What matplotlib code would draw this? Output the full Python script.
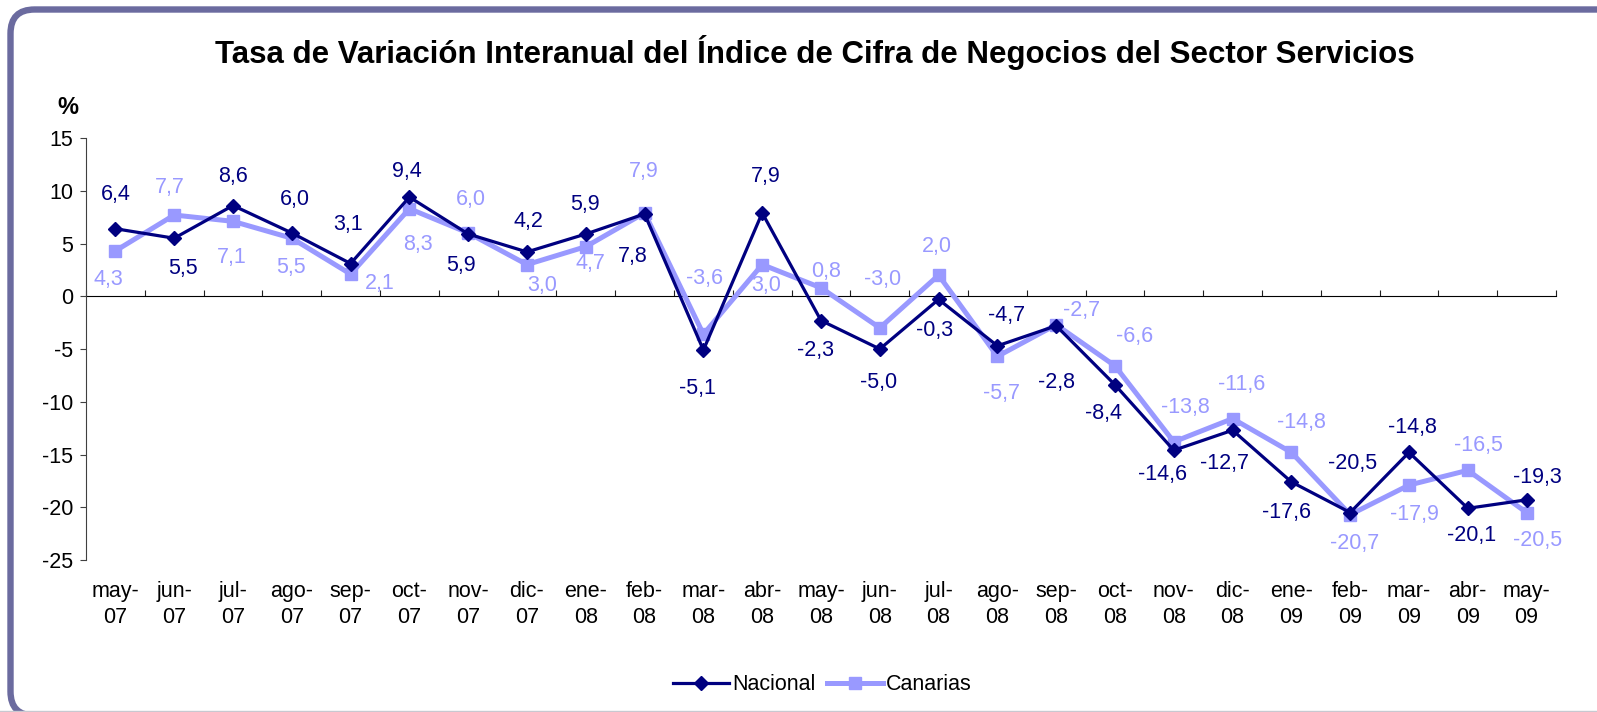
import numpy as np
import matplotlib as mpl
import matplotlib.pyplot as plt
from matplotlib.patches import FancyBboxPatch

mpl.rcParams["font.family"] = ["Liberation Sans", "DejaVu Sans"]
mpl.rcParams["axes.unicode_minus"] = False

meses = ["may-\n07", "jun-\n07", "jul-\n07", "ago-\n07", "sep-\n07", "oct-\n07",
         "nov-\n07", "dic-\n07", "ene-\n08", "feb-\n08", "mar-\n08", "abr-\n08",
         "may-\n08", "jun-\n08", "jul-\n08", "ago-\n08", "sep-\n08", "oct-\n08",
         "nov-\n08", "dic-\n08", "ene-\n09", "feb-\n09", "mar-\n09", "abr-\n09",
         "may-\n09"]
nacional = [6.4, 5.5, 8.6, 6.0, 3.1, 9.4, 5.9, 4.2, 5.9, 7.8, -5.1, 7.9, -2.3,
            -5.0, -0.3, -4.7, -2.8, -8.4, -14.6, -12.7, -17.6, -20.5, -14.8,
            -20.1, -19.3]
canarias = [4.3, 7.7, 7.1, 5.5, 2.1, 8.3, 6.0, 3.0, 4.7, 7.9, -3.6, 3.0, 0.8,
            -3.0, 2.0, -5.7, -2.7, -6.6, -13.8, -11.6, -14.8, -20.7, -17.9,
            -16.5, -20.5]

# label offsets in pixels (dx, dy), dy positive = downwards
off_nac = [(0, -34), (9, 30), (0, -29), (3, -33), (-3, -39), (-3, -26), (-7, 31),
           (1, -30), (-1, -30), (-12, 43), (-6, 38), (4, -36), (-5, 30), (-1, 33),
           (-4, 31), (9, -30), (0, 57), (-11, 29), (-11, 24), (-8, 33), (-5, 31),
           (2, -49), (3, -25), (4, 27), (11, -22)]
off_can = [(-7, 29), (-4, -28), (-1, 36), (-1, 29), (29, 9), (9, 36), (3, -33),
           (15, 21), (5, 17), (-1, -41), (1, -56), (4, 21), (5, -16), (3, -48),
           (-2, -29), (4, 37), (25, -14), (20, -29), (12, -34), (9, -34), (10, -30),
           (4, 29), (5, 29), (11, -25), (11, 28)]

c_nac = "#000080"
c_can = "#9999FF"
fs = 15.5

fig = plt.figure(figsize=(15.97, 7.12), dpi=100)
ax = fig.add_axes([86 / 1597, 1 - 560 / 712, 1470 / 1597, 422 / 712])

x = np.arange(len(meses))
ax.plot(x, canarias, color=c_can, lw=3.6, marker="s", ms=8.5, label="Canarias", zorder=3)
ax.plot(x, nacional, color=c_nac, lw=2.3, marker="D", ms=7.5, label="Nacional", zorder=4)

def fmt(v):
    return f"{v:.1f}".replace(".", ",")

for xi, v, (dx, dy) in zip(x, nacional, off_nac):
    ax.annotate(fmt(v), (xi, v), xytext=(dx, -dy), textcoords="offset pixels",
                ha="center", va="center", fontsize=fs, color=c_nac)
for xi, v, (dx, dy) in zip(x, canarias, off_can):
    ax.annotate(fmt(v), (xi, v), xytext=(dx, -dy), textcoords="offset pixels",
                ha="center", va="center", fontsize=fs, color=c_can)

ax.set_xlim(-0.5, len(meses) - 0.5)
ax.set_ylim(-25, 15)
ax.set_yticks(np.arange(-25, 16, 5))
ax.tick_params(axis="y", length=4.3, width=0.8, pad=5, labelsize=fs, color="#404040")
ax.set_xticks(x)
ax.set_xticklabels(meses, fontsize=fs, linespacing=1.3)
ax.tick_params(axis="x", length=0, pad=15)
for s in ["top", "right", "bottom"]:
    ax.spines[s].set_visible(False)
ax.spines["left"].set_color("#404040")
ax.spines["left"].set_linewidth(0.8)

# zero line with category boundary ticks
sec = ax.secondary_xaxis(25 / 40)
sec.set_xticks(np.arange(-0.5, len(meses), 1.0))
sec.set_xticklabels([])
sec.tick_params(length=4.3, width=0.8, direction="out", color="#202020")
sec.spines["bottom"].set_color("#202020")
sec.spines["bottom"].set_linewidth(0.8)

fig.text(815 / 1597, 1 - 53 / 712,
         "Tasa de Variación Interanual del Índice de Cifra de Negocios del Sector Servicios",
         ha="center", va="center", fontsize=22.5, fontweight="bold")
fig.text(68 / 1597, 1 - 108 / 712, "%", ha="center", va="center", fontsize=17, fontweight="bold")

h, l = ax.get_legend_handles_labels()
fig.legend(h[::-1], l[::-1], loc="center", bbox_to_anchor=(0.5 + 24 / 1597, 1 - 685 / 712),
           ncol=2, frameon=False, fontsize=fs, handlelength=2.6, handletextpad=0.15,
           columnspacing=0.5)

frame = FancyBboxPatch((0.105, -0.035), 16.4, 7.06, boxstyle="round,pad=0,rounding_size=0.24",
                       transform=fig.dpi_scale_trans, facecolor="none",
                       edgecolor="#6B6B9F", lw=4.6)
fig.patches.append(frame)
fig.add_artist(plt.Line2D([0, 1], [0.0015, 0.0015], transform=fig.transFigure,
                          color="#C8C8D0", lw=1))

fig.savefig("out.png", dpi=100)
